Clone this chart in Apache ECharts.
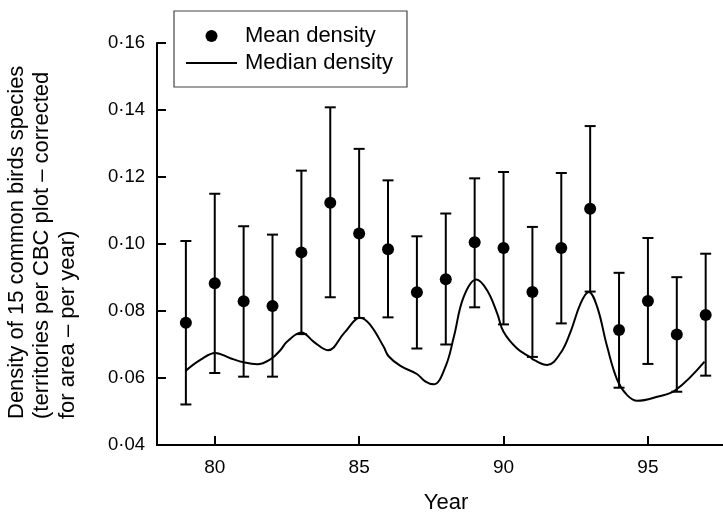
<!DOCTYPE html>
<html>
<head>
<meta charset="utf-8">
<script src="https://cdn.jsdelivr.net/npm/echarts@6/dist/echarts.min.js"></script>
<style>
html,body{margin:0;padding:0;background:#fff;}
#chart{width:723px;height:514px;}
</style>
</head>
<body>
<div id="chart"></div>
<script>
// ---- data ----
var years = [79, 80, 81, 82, 83, 84, 85, 86, 87, 88, 89, 90, 91, 92, 93, 94, 95, 96, 97];
var meanDensity = [0.0765, 0.0883, 0.0829, 0.0815, 0.0975, 0.1123, 0.1031, 0.0984, 0.0856, 0.0895, 0.1005, 0.0988, 0.0857, 0.0988, 0.1105, 0.0743, 0.0830, 0.0730, 0.0788];
var errUpper = [0.1009, 0.1150, 0.1053, 0.1028, 0.1219, 0.1408, 0.1284, 0.1190, 0.1023, 0.1091, 0.1196, 0.1215, 0.1051, 0.1212, 0.1352, 0.0914, 0.1018, 0.0901, 0.0971];
var errLower = [0.0521, 0.0615, 0.0604, 0.0604, 0.0731, 0.0841, 0.0779, 0.0781, 0.0688, 0.0700, 0.0811, 0.0760, 0.0663, 0.0763, 0.0858, 0.0571, 0.0642, 0.0559, 0.0607];
// median density curve, sampled along the drawn smoothed line
var medianYears = [79.0, 79.5, 80.02, 80.54, 81.04, 81.47, 81.93, 82.27, 82.5, 83.0, 83.43, 83.92, 84.47, 84.93, 85.04, 85.39, 85.85, 86.02, 86.43, 87.0, 87.3, 87.58, 87.99, 88.28, 88.62, 89.06, 89.43, 89.78, 90.0, 90.47, 90.93, 91.05, 91.51, 91.97, 92.32, 92.67, 92.95, 93.24, 93.59, 93.94, 94.28, 94.63, 95.32, 95.96, 96.96];
var medianDensity = [0.0622, 0.0654, 0.0675, 0.0659, 0.0646, 0.0641, 0.0656, 0.0683, 0.0708, 0.0736, 0.0708, 0.0683, 0.0733, 0.0778, 0.0780, 0.0758, 0.0693, 0.0665, 0.0636, 0.0612, 0.0589, 0.0581, 0.0634, 0.0723, 0.0842, 0.0894, 0.0862, 0.0793, 0.0738, 0.0688, 0.0662, 0.0654, 0.0639, 0.0674, 0.0738, 0.0823, 0.0857, 0.0813, 0.0693, 0.0594, 0.0549, 0.0532, 0.0544, 0.0564, 0.0649];
var xTickLabels = [80, 85, 90, 95];
var yTicks = [0.04, 0.06, 0.08, 0.10, 0.12, 0.14, 0.16];
var yTitleLines = ['Density of 15 common birds species', '(territories per CBC plot \u2013 corrected', 'for area \u2013 per year)'];
var xTitle = 'Year';
var legendNames = ['Mean density', 'Median density'];

var FONT = '"Liberation Sans", Arial, Helvetica, sans-serif';
var INK = '#000';

var meanData = years.map(function (y, i) { return [y, meanDensity[i]]; });
var errData = years.map(function (y, i) { return [y, errLower[i], errUpper[i]]; });
var medianData = medianYears.map(function (y, i) { return [y, medianDensity[i]]; });

var chart = echarts.init(document.getElementById('chart'), null, {renderer: 'canvas'});

chart.setOption({
  animation: false,
  backgroundColor: '#fff',
  grid: {left: 157, right: 0, top: 43, bottom: 69, outerBoundsMode: 'none', containLabel: false},
  legend: {
    orient: 'vertical',
    left: 174, top: 11,
    data: [
      {name: legendNames[0], icon: 'circle'},
      {name: legendNames[1], itemStyle: {color: 'rgba(0,0,0,0)', borderWidth: 0, opacity: 0}}
    ],
    itemWidth: 51, itemHeight: 12, itemGap: 5,
    padding: [14, 14, 13, 11],
    borderColor: '#444', borderWidth: 1.2,
    textStyle: {fontFamily: FONT, fontSize: 22, color: INK, padding: [0, 0, 0, 3]},
    selectedMode: false
  },
  xAxis: {
    type: 'value', min: 78, max: 97.6,
    name: xTitle, nameLocation: 'middle', nameGap: 47,
    nameTextStyle: {fontFamily: FONT, fontSize: 22, color: INK, padding: [0, 0, 0, 12]},
    axisLine: {show: true, onZero: false, lineStyle: {color: INK, width: 2}},
    axisTick: {show: true, inside: false, length: -9, lineStyle: {color: INK, width: 2}, customValues: xTickLabels},
    axisLabel: {fontFamily: FONT, fontSize: 19, color: INK, margin: 13, customValues: xTickLabels},
    splitLine: {show: false}
  },
  yAxis: {
    type: 'value', min: 0.04, max: 0.16, interval: 0.02,
    axisLine: {show: true, onZero: false, lineStyle: {color: INK, width: 2}},
    axisTick: {show: true, inside: false, length: -9, lineStyle: {color: INK, width: 2}},
    axisLabel: {
      fontFamily: FONT, fontSize: 18.5, color: INK, margin: 12,
      formatter: function (v) { return v.toFixed(2).replace('.', '\u00b7'); }
    },
    splitLine: {show: false}
  },
  graphic: [{
    type: 'text',
    x: 4, y: 419,
    rotation: Math.PI / 2,
    style: {
      text: yTitleLines.join('\n'),
      font: '22px ' + FONT,
      fill: INK,
      textAlign: 'left',
      textVerticalAlign: 'top',
      lineHeight: 25.5
    }
  }],
  series: [
    {
      name: 'errors',
      type: 'custom',
      data: errData,
      z: 2,
      renderItem: function (params, api) {
        var x = api.value(0);
        var lo = api.coord([x, api.value(1)]);
        var hi = api.coord([x, api.value(2)]);
        var hw = 5.5;
        var st = {stroke: INK, lineWidth: 2};
        return {
          type: 'group',
          children: [
            {type: 'line', shape: {x1: lo[0], y1: lo[1], x2: hi[0], y2: hi[1]}, style: st},
            {type: 'line', shape: {x1: lo[0] - hw, y1: lo[1], x2: lo[0] + hw, y2: lo[1]}, style: st},
            {type: 'line', shape: {x1: hi[0] - hw, y1: hi[1], x2: hi[0] + hw, y2: hi[1]}, style: st}
          ]
        };
      }
    },
    {
      name: legendNames[1],
      type: 'line',
      data: medianData,
      smooth: 0.4,
      symbol: 'none',
      z: 3,
      lineStyle: {color: INK, width: 2},
      itemStyle: {color: INK}
    },
    {
      name: legendNames[0],
      type: 'scatter',
      data: meanData,
      symbol: 'circle',
      symbolSize: 12,
      z: 4,
      itemStyle: {color: INK, opacity: 1}
    }
  ]
});
</script>
</body>
</html>
